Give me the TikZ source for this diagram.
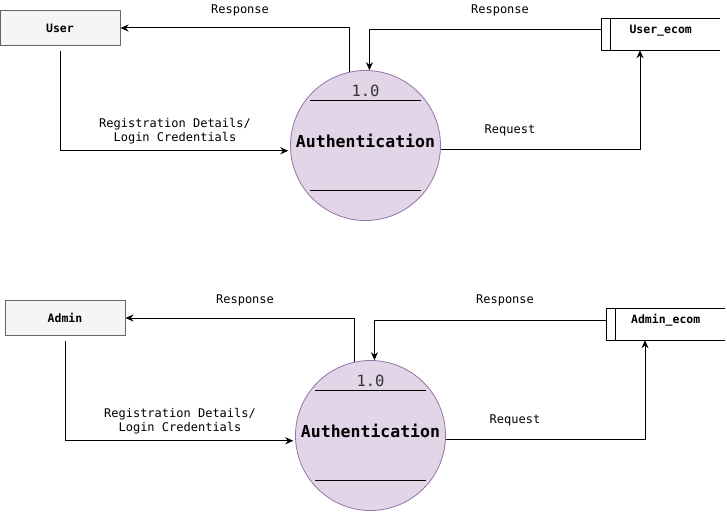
\documentclass[tikz,border=0pt]{standalone}
\usepackage{fontspec}
\setmainfont{DejaVu Sans Mono}
\usetikzlibrary{arrows.meta,calc}
\definecolor{procfill}{HTML}{E1D5E7}
\definecolor{procline}{HTML}{9673A6}
\definecolor{entfill}{HTML}{F5F5F5}
\definecolor{entline}{HTML}{666666}
\definecolor{numgray}{HTML}{333333}
\tikzset{
	entity/.style={draw=entline,fill=entfill,line width=1pt,minimum width=120pt,minimum height=35pt,inner sep=0pt,font=\fontsize{11.5}{13}\selectfont\bfseries},
	process/.style={circle,draw=procline,fill=procfill,line width=0.8pt,minimum size=150pt,inner sep=0pt},
	proctext/.style={inner sep=0pt,font=\fontsize{16.5}{19}\selectfont\bfseries},
	procnum/.style={inner sep=0pt,text=numgray,font=\fontsize{15.5}{18}\selectfont},
	store/.style={minimum width=119pt,minimum height=31pt,inner sep=0pt,text height=9pt,text depth=11pt,font=\fontsize{11.5}{13}\selectfont\bfseries},
	flow/.style={-{Stealth[length=8pt,width=7pt]},line width=1pt},
	flowlabel/.style={inner sep=0pt,align=center,font=\fontsize{12}{14}\selectfont},
}

\begin{document}
\begin{tikzpicture}[x=1pt,y=-1pt]
	\useasboundingbox (0,0) rectangle (727,511);

	%% user part
	\node[entity] (user) at (60,28) {User};
	\node[process] (auth1) at (365.5,145.5) {};
	\node[proctext] (authtext1) at ($(auth1.center)+(0,-5)$) {Authentication};
	\node[procnum] (num1) at ($(auth1.center)+(0,-55)$) {1.0};
	\draw[line width=1pt] ($(auth1.center)+(-55.5,-45)$) -- ($(auth1.center)+(55,-45)$);
	\draw[line width=1pt] ($(auth1.center)+(-55.5,44.5)$) -- ($(auth1.center)+(55,44.5)$);
	\node[store,anchor=west] (userecom) at (601,34.5) {User\_ecom};
	\draw[line width=1pt] (userecom.north east) -- (userecom.north west) -- (userecom.south west) -- (userecom.south east);
	\draw[line width=1pt] ($(userecom.north west)+(9.5,0)$) -- ($(userecom.south west)+(9.5,0)$);

	\draw[flow] (auth1.102) |- (user.east);
	\draw[flow] ($(userecom.west)+(0,-4.5)$) -| (auth1.87);
	\draw[flow] (auth1.-3) -| ($(userecom.south west)+(39,0)$);
	\draw[flow,shorten <=5pt,shorten >=2pt] (user.south) |- (auth1.184);

	\node[flowlabel] (resp1a) at (240,10) {Response};
	\node[flowlabel] (resp1b) at (500,10) {Response};
	\node[flowlabel] (req1) at (510,130) {Request};
	\node[flowlabel] (reg1) at (175,131) {Registration Details/\\Login Credentials};

	%% admin part
	\node[entity] (admin) at (65,318) {Admin};
	\node[process] (auth2) at (370.5,435.5) {};
	\node[proctext] (authtext2) at ($(auth2.center)+(0,-5)$) {Authentication};
	\node[procnum] (num2) at ($(auth2.center)+(0,-55)$) {1.0};
	\draw[line width=1pt] ($(auth2.center)+(-55.5,-45)$) -- ($(auth2.center)+(55,-45)$);
	\draw[line width=1pt] ($(auth2.center)+(-55.5,44.5)$) -- ($(auth2.center)+(55,44.5)$);
	\node[store,anchor=west] (adminecom) at (606,324.5) {Admin\_ecom};
	\draw[line width=1pt] (adminecom.north east) -- (adminecom.north west) -- (adminecom.south west) -- (adminecom.south east);
	\draw[line width=1pt] ($(adminecom.north west)+(9.5,0)$) -- ($(adminecom.south west)+(9.5,0)$);

	\draw[flow] (auth2.102) |- (admin.east);
	\draw[flow] ($(adminecom.west)+(0,-4.5)$) -| (auth2.87);
	\draw[flow] (auth2.-3) -| ($(adminecom.south west)+(39,0)$);
	\draw[flow,shorten <=5pt,shorten >=2pt] (admin.south) |- (auth2.184);

	\node[flowlabel] (resp2a) at (245,300) {Response};
	\node[flowlabel] (resp2b) at (505,300) {Response};
	\node[flowlabel] (req2) at (515,420) {Request};
	\node[flowlabel] (reg2) at (180,421) {Registration Details/\\Login Credentials};
\end{tikzpicture}
\end{document}
